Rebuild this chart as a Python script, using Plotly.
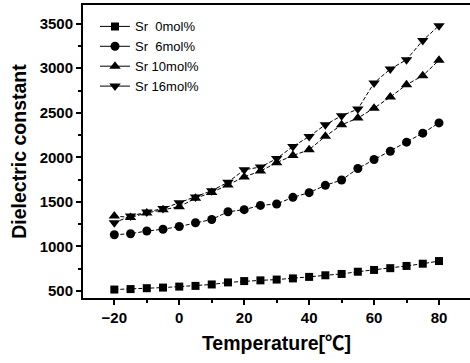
import plotly.graph_objects as go

temperature = list(range(-20, 85, 5))
sr0 = [515, 520, 530, 537, 548, 556, 572, 595, 610, 618, 627, 640, 657, 675, 690, 715, 735, 755, 780, 805, 835]
sr6 = [1130, 1142, 1172, 1192, 1223, 1265, 1302, 1388, 1412, 1460, 1476, 1550, 1603, 1685, 1745, 1874, 1975, 2068, 2170, 2271, 2386]
sr10 = [1340, 1325, 1375, 1410, 1445, 1540, 1605, 1690, 1780, 1845, 1940, 2020, 2085, 2235, 2365, 2440, 2552, 2676, 2815, 2916, 3090]
sr16 = [1265, 1340, 1385, 1425, 1490, 1555, 1625, 1720, 1860, 1890, 1985, 2121, 2234, 2365, 2466, 2541, 2834, 2991, 3096, 3312, 3478]

names = ["Sr\u00a0\u00a00mol%", "Sr\u00a0\u00a06mol%", "Sr 10mol%", "Sr 16mol%"]
series = [sr0, sr6, sr10, sr16]
symbols = ["square", "circle", "triangle-up", "triangle-down"]
sizes = [8, 9, 10, 10]

font_family = "Liberation Sans, Arial, sans-serif"

fig = go.Figure()
for name, ys, sym, sz in zip(names, series, symbols, sizes):
    fig.add_trace(go.Scatter(
        x=temperature, y=ys, name=name, mode="lines+markers",
        line=dict(color="black", width=1, dash="4px,2px"),
        marker=dict(symbol=sym, size=sz, color="black"),
        showlegend=False,
    ))
# legend entries drawn with solid line segments, as in the reference
for name, sym, sz in zip(names, symbols, sizes):
    fig.add_trace(go.Scatter(
        x=[None], y=[None], name=name, mode="lines+markers",
        line=dict(color="black", width=1),
        marker=dict(symbol=sym, size=sz, color="black"),
        showlegend=True,
    ))

fig.update_layout(
    width=470, height=363,
    margin=dict(l=83, r=0, t=5, b=65),
    paper_bgcolor="white", plot_bgcolor="white",
    font=dict(family=font_family, color="black"),
    showlegend=True,
    legend=dict(
        x=0.031, y=0.978, xanchor="left", yanchor="top",
        bgcolor="rgba(0,0,0,0)", font=dict(size=13, family=font_family),
        tracegroupgap=0, itemsizing="trace",
    ),
)

fig.update_xaxes(
    range=[-29.65, 89.55],
    tickmode="array", tickvals=[-20, 0, 20, 40, 60, 80],
    ticks="outside", ticklen=5, tickwidth=1.5, tickcolor="black",
    showline=True, linecolor="black", linewidth=2, mirror=True,
    showgrid=False, zeroline=False,
    tickfont=dict(size=15, family=font_family, weight="bold"),
    minor=dict(tickmode="array", tickvals=[-10, 10, 30, 50, 70], ticks="outside", ticklen=3, tickcolor="black"),
    title=dict(text="<b>Temperature[<span style=\"font-family:'Noto Sans CJK SC'\">℃</span>]</b>",
               font=dict(size=19.5, family=font_family), standoff=11),
)
fig.update_yaxes(
    range=[420, 3710],
    tickmode="array", tickvals=[500, 1000, 1500, 2000, 2500, 3000, 3500],
    ticks="outside", ticklen=5, tickwidth=1.5, tickcolor="black",
    showline=True, linecolor="black", linewidth=2, mirror=False,
    showgrid=False, zeroline=False,
    tickfont=dict(size=15, family=font_family, weight="bold"),
    minor=dict(tickmode="array", tickvals=[750, 1250, 1750, 2250, 2750, 3250], ticks="outside", ticklen=3, tickcolor="black"),
    title=dict(text="<b>Dielectric constant</b>", font=dict(size=19.5, family=font_family), standoff=8),
)

fig.write_html("out.html")
